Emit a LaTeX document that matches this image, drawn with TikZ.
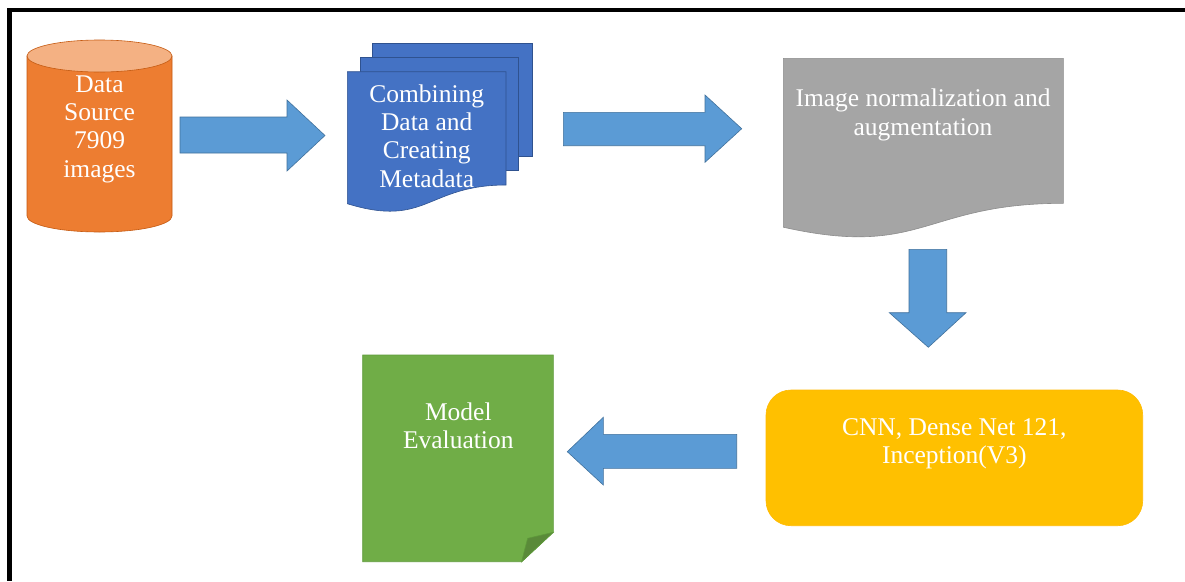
\documentclass[tikz,border=0pt]{standalone}
\usepackage{fontspec}
\setmainfont{Liberation Serif}
\definecolor{arrowblue}{HTML}{5B9BD5}
\definecolor{arrowline}{HTML}{41719C}
\definecolor{cylorange}{HTML}{ED7D31}
\definecolor{cyltop}{HTML}{F4B183}
\definecolor{cylline}{HTML}{C55A11}
\definecolor{docblue}{HTML}{4472C4}
\definecolor{docblueline}{HTML}{2F528F}
\definecolor{docgray}{HTML}{A5A5A5}
\definecolor{docgrayline}{HTML}{8C8C8C}
\definecolor{modelyellow}{HTML}{FFC000}
\definecolor{evalgreen}{HTML}{70AD47}
\definecolor{evalgreenline}{HTML}{5E9A3A}
\definecolor{evalfold}{HTML}{5A8A39}
\tikzset{
  label text/.style={text=white, align=center, inner sep=0pt, anchor=base,
    font=\fontsize{25.5}{28.3}\selectfont},
  block arrow/.style={fill=arrowblue, draw=arrowline, line width=0.6pt, line join=miter},
  frame line/.style={draw=black, line width=4.5pt}
}
\begin{document}
\begin{tikzpicture}[x=1pt,y=-1pt]
\useasboundingbox (0,0) rectangle (1185,581);
\fill[white] (0,0) rectangle (1185,581);
% frame (top and left edges)
\coordinate (fcorner) at (9.3,10);
\coordinate (fright) at (1185,10);
\coordinate (fbottom) at (9.3,581);
\draw[frame line] (fright) -- (fcorner) -- (fbottom);

% data source cylinder
\draw[fill=cylorange, draw=cylline, line width=0.6pt]
  (27,56) -- (27,216) arc[start angle=180, end angle=360, x radius=72.5pt, y radius=16pt] -- (172,56) -- cycle;
\draw[fill=cyltop, draw=cylline, line width=0.6pt] (99.5,56) ellipse[x radius=72.5pt, y radius=16pt];
\node[label text] (src) at (99.5,177) {Data\\Source\\7909\\images};

% arrow 1
\draw[block arrow] (180,117) -- (287,117) -- (287,100) -- (325,135.5) -- (287,171) -- (287,153) -- (180,153) -- cycle;

% multi-document
\draw[fill=docblue, draw=docblueline, line width=0.6pt] (372.7,43.3) rectangle (532.7,156);
\draw[fill=docblue, draw=docblueline, line width=0.6pt] (360,57.7) rectangle (518.7,170);
\draw[fill=docblue, draw=docblueline, line width=0.6pt]
  (347.3,71.7) -- (506,71.7) -- (506,185) .. controls (426.7,185) and (426.7,228.2) .. (347.3,203.7) -- cycle;
\node[label text] (comb) at (426.7,187) {Combining\\Data and\\Creating\\Metadata};

% arrow 2
\draw[block arrow] (563.3,112.3) -- (705,112.3) -- (705,95) -- (741.7,128.7) -- (705,162.3) -- (705,145.7) -- (563.3,145.7) -- cycle;

% gray document
\draw[fill=docgray, draw=docgrayline, line width=0.6pt]
  (783.3,58.3) -- (1063.3,58.3) -- (1063.3,203.3) .. controls (923.3,203.3) and (923.3,258.5) .. (783.3,227.2) -- cycle;
\node[label text] (norm) at (923,135) {Image normalization and\\augmentation};

% down arrow
\draw[block arrow] (909,249.3) -- (946.7,249.3) -- (946.7,312.7) -- (966,312.7) -- (928.3,347.3) -- (889.3,312.7) -- (909,312.7) -- cycle;

% model box
\draw[fill=modelyellow, draw=modelyellow!90!orange, line width=0.6pt, rounded corners=25pt] (766,390) rectangle (1142.7,525.7);
\node[label text] (models) at (954.3,463.3) {CNN, Dense Net 121,\\Inception(V3)};

% left arrow
\draw[block arrow] (736.7,434.3) -- (603.3,434.3) -- (603.3,417.3) -- (567.3,451.7) -- (603.3,485) -- (603.3,468.3) -- (736.7,468.3) -- cycle;

% evaluation note
\draw[fill=evalgreen, draw=evalgreenline, line width=0.6pt]
  (362.7,355) -- (553.3,355) -- (553.3,532.3) -- (521.7,561.7) -- (362.7,561.7) -- cycle;
\draw[fill=evalfold, draw=evalgreenline, line width=0.6pt]
  (521.7,561.7) .. controls (524,552) .. (527.7,538.3) -- (553.3,532.3) -- cycle;
\node[label text] (eval) at (458.3,448.3) {Model\\Evaluation};
\end{tikzpicture}
\end{document}
